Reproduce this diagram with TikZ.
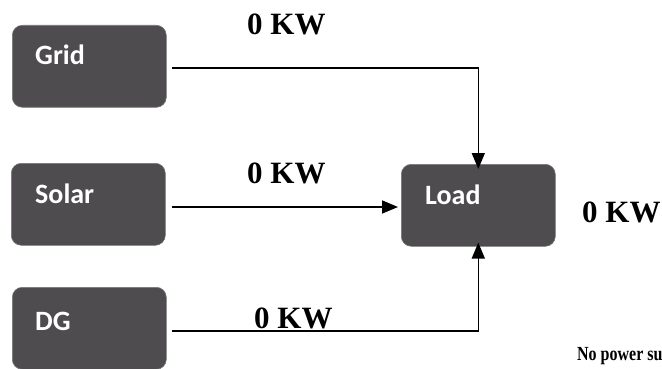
\documentclass[tikz,border=0pt]{standalone}
\usepackage{fontspec}
\setmainfont{Liberation Serif}
\newfontfamily\boxfont{Carlito}
\usetikzlibrary{arrows.meta}
\definecolor{boxgray}{RGB}{78,76,78}
\definecolor{boxedge}{RGB}{120,118,120}
\tikzset{
  srcbox/.style={draw=boxedge, line width=0.6pt, fill=boxgray, rounded corners=10pt, minimum width=#1, minimum height=82pt, inner sep=0pt, anchor=north west},
  boxtxt/.style={anchor=base west, inner sep=0pt, text=white, font=\boxfont\bfseries\fontsize{28}{28}\selectfont},
  kwtxt/.style={anchor=base west, inner sep=0pt, font=\bfseries\fontsize{31}{31}\selectfont},
  notetxt/.style={anchor=base west, inner sep=0pt, xscale=0.8, font=\bfseries\fontsize{20}{20}\selectfont},
  conn/.style={line width=1.6pt, -{Triangle[length=16pt,width=13pt]}}
}
\begin{document}
\begin{tikzpicture}[x=1pt,y=-1pt]
\useasboundingbox (0,0) rectangle (662,369);
% boxes
\node[srcbox=154pt] (grid) at (12,25) {};
\node[srcbox=154pt] (solar) at (11,163) {};
\node[srcbox=154pt] (dg) at (12,287) {};
\node[srcbox=154pt] (load) at (401,164) {};
% box labels
\node[boxtxt] (gridt) at (35,65) {Grid};
\node[boxtxt] (solart) at (35,203) {Solar};
\node[boxtxt] (dgt) at (35,330) {DG};
\node[boxtxt] (loadt) at (425,204) {Load};
% power labels
\node[kwtxt] (kw1) at (247,35) {0 KW};
\node[kwtxt] (kw2) at (247,183) {0 KW};
\node[kwtxt] (kw3) at (254,328) {0 KW};
\node[kwtxt] (kw4) at (582,222) {0 KW};
\node[notetxt] (note) at (577,360) {No power su};
% connectors
\coordinate (gridout) at (172,68);
\coordinate (solarout) at (172,207);
\coordinate (dgout) at (172,331);
\draw[conn] (gridout) -| ([yshift=-5pt]load.north);
\draw[conn] (solarout) -- ([xshift=-3pt]load.west |- solarout);
\draw[conn] (dgout) -| ([yshift=4pt]load.south);
\end{tikzpicture}
\end{document}
